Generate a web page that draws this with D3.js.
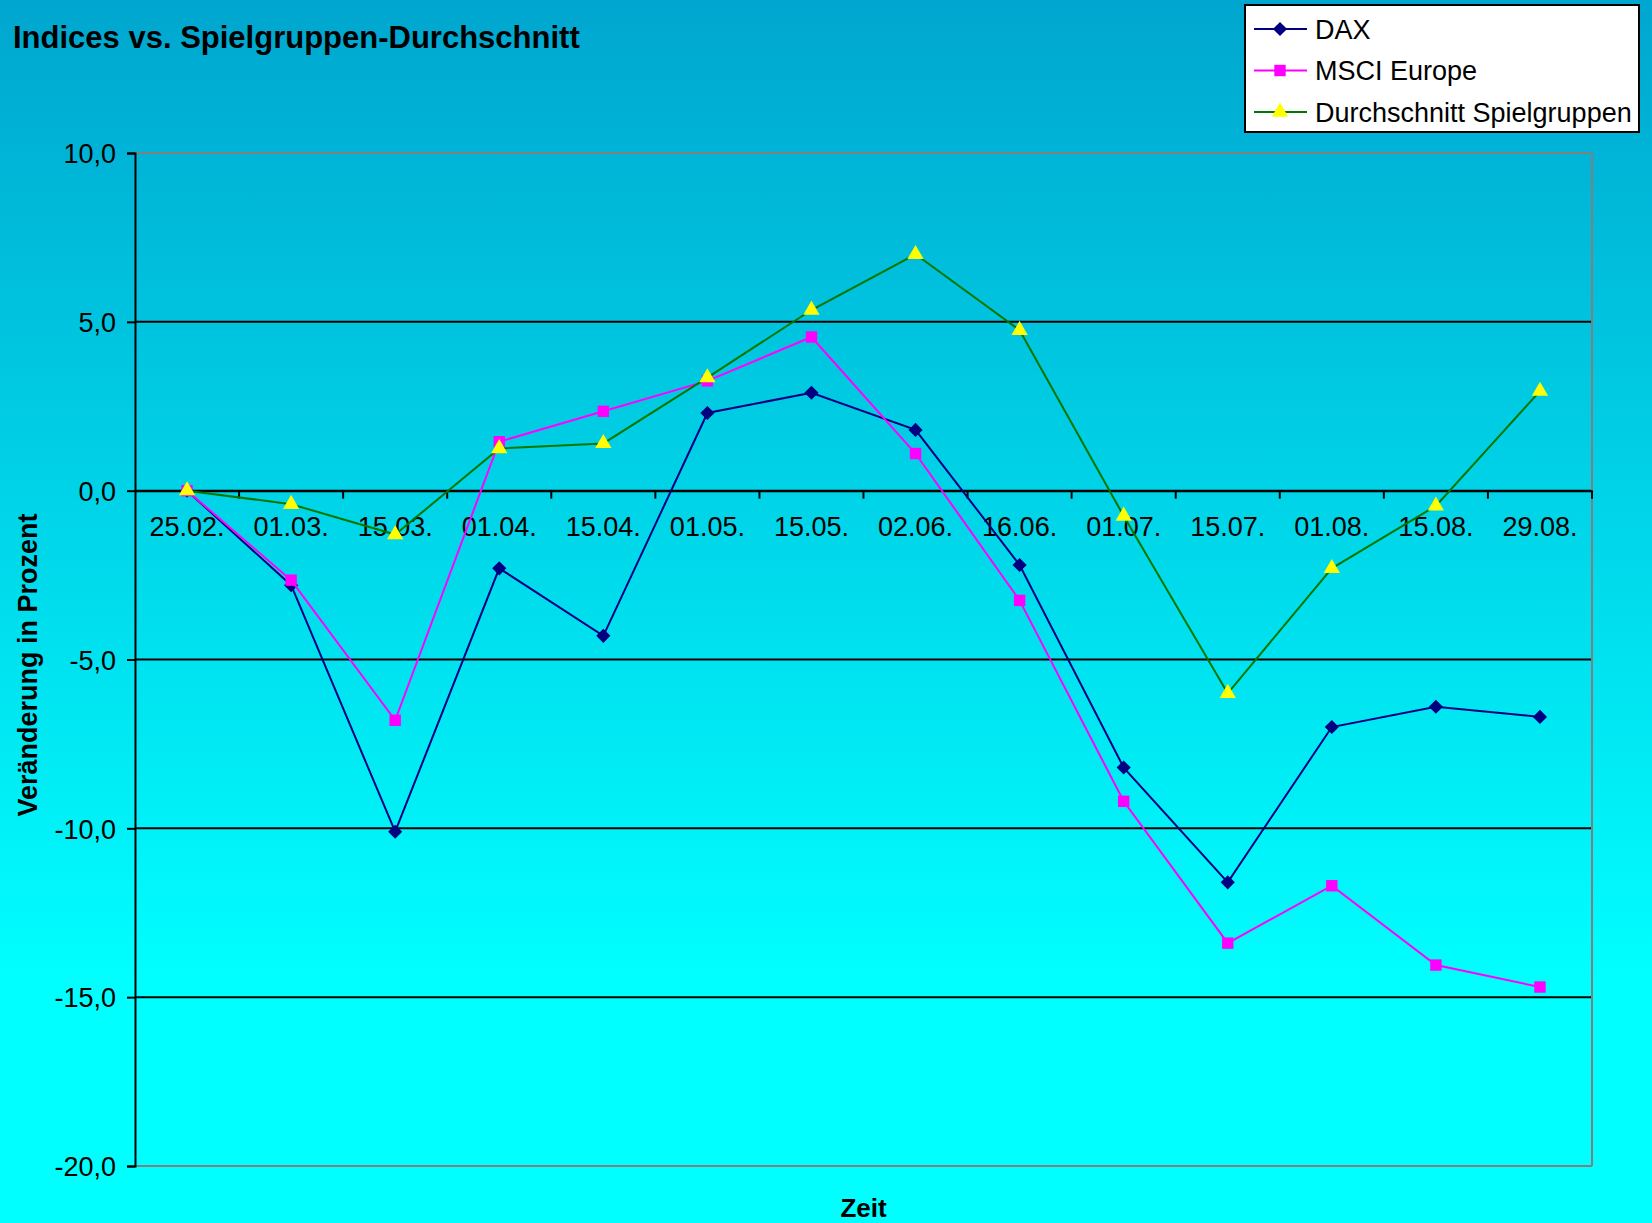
<!DOCTYPE html>
<html>
<head>
<meta charset="utf-8">
<script src="https://cdn.jsdelivr.net/npm/d3@7"></script>
<style>
  html, body { margin: 0; padding: 0; }
  body { width: 1652px; height: 1223px; overflow: hidden; }
  svg text { font-family: "Liberation Sans", Arial, sans-serif; fill: #000; }
</style>
</head>
<body>
<div id="chart"></div>
<script>
// data
var dates = ["25.02.", "01.03.", "15.03.", "01.04.", "15.04.", "01.05.", "15.05.",
             "02.06.", "16.06.", "01.07.", "15.07.", "01.08.", "15.08.", "29.08."];
var dax   = [0, -2.8, -10.1, -2.3, -4.3, 2.3, 2.9, 1.8, -2.2, -8.2, -11.6, -7.0, -6.4, -6.7];
var msci  = [0, -2.65, -6.8, 1.45, 2.35, 3.25, 4.55, 1.1, -3.25, -9.2, -13.4, -11.7, -14.05, -14.7];
var durch = [0, -0.4, -1.3, 1.25, 1.4, 3.35, 5.35, 7.0, 4.75, -0.75, -6.0, -2.3, -0.45, 2.95];
var yTicks = [10, 5, 0, -5, -10, -15, -20];

var seriesNames = ["DAX", "MSCI Europe", "Durchschnitt Spielgruppen"];

var width = 1652, height = 1223;
// plot box (window.top is read-only, so no plain "top" here)
var plotL = 135, plotR = 1592, plotT = 153, plotB = 1166;

var svg = d3.select("#chart").append("svg")
    .attr("width", width)
    .attr("height", height);

// background gradient
var grad = svg.append("defs").append("linearGradient")
    .attr("id", "bg")
    .attr("x1", 0).attr("y1", 0).attr("x2", 0).attr("y2", 1);
grad.append("stop").attr("offset", "0%").attr("stop-color", "#00a6cf");
grad.append("stop").attr("offset", "80%").attr("stop-color", "#00ffff");
grad.append("stop").attr("offset", "100%").attr("stop-color", "#00ffff");

svg.append("rect")
    .attr("width", width).attr("height", height)
    .attr("fill", "url(#bg)");

var x = d3.scaleBand().domain(dates).range([plotL, plotR]).padding(0);
var y = d3.scaleLinear().domain([-20, 10]).range([plotB, plotT]);
var cx = function(d) { return x(d) + x.bandwidth() / 2; };

// gridlines
svg.append("g").selectAll("line")
    .data(yTicks)
  .enter().append("line")
    .attr("x1", plotL).attr("x2", plotR)
    .attr("y1", function(d) { return y(d); })
    .attr("y2", function(d) { return y(d); })
    .attr("stroke", function(d) { return (d == 10 || d == -20) ? "#808080" : "#000"; })
    .attr("stroke-width", 2);

// right border
svg.append("line")
    .attr("x1", plotR).attr("x2", plotR)
    .attr("y1", plotT).attr("y2", plotB)
    .attr("stroke", "#808080").attr("stroke-width", 2);

// y axis
var yAxis = svg.append("g")
    .attr("transform", "translate(" + plotL + ",0)")
    .call(d3.axisLeft(y).tickValues(yTicks).tickSize(8).tickPadding(11)
      .tickFormat(function(d) { return d.toFixed(1).replace(".", ","); }));
yAxis.select(".domain").attr("stroke", "#000").attr("stroke-width", 2);
yAxis.selectAll(".tick line").attr("stroke", "#000").attr("stroke-width", 2);
yAxis.selectAll(".tick text")
    .attr("font-size", 27)
    .attr("font-family", "Liberation Sans, Arial, sans-serif")
    .attr("dy", "0.36em")
    .attr("fill", "#000");

// x axis on the zero line, labels centred, ticks on band edges
var xAxis = svg.append("g")
    .attr("transform", "translate(0," + y(0) + ")")
    .call(d3.axisBottom(x).tickSize(0).tickPadding(26).tickSizeOuter(0));
xAxis.select(".domain").attr("stroke", "#000").attr("stroke-width", 2);
xAxis.selectAll(".tick text")
    .attr("font-size", 27)
    .attr("font-family", "Liberation Sans, Arial, sans-serif")
    .attr("fill", "#000");

xAxis.selectAll(".edge")
    .data(dates)
  .enter().append("line")
    .attr("class", "edge")
    .attr("x1", function(d) { return x(d) + x.bandwidth(); })
    .attr("x2", function(d) { return x(d) + x.bandwidth(); })
    .attr("y1", 0).attr("y2", 8)
    .attr("stroke", "#000").attr("stroke-width", 2);

// series (diamond = square turned by 45 degrees, like the Excel marker)
var series = [
  { name: seriesNames[0], values: dax,   color: "#000080", marker: d3.symbolSquare,   fill: "#000080", size: 100, rot: 45 },
  { name: seriesNames[1], values: msci,  color: "#ff00ff", marker: d3.symbolSquare,   fill: "#ff00ff", size: 130, rot: 0 },
  { name: seriesNames[2], values: durch, color: "#007800", marker: d3.symbolTriangle, fill: "#ffff00", size: 115, rot: 0 }
];

var line = d3.line()
    .x(function(d, i) { return cx(dates[i]); })
    .y(function(d) { return y(d); });

series.forEach(function(s) {
  var g = svg.append("g");
  g.append("path")
      .datum(s.values)
      .attr("d", line)
      .attr("fill", "none")
      .attr("stroke", s.color)
      .attr("stroke-width", 2);
  g.selectAll("path.mk")
      .data(s.values)
    .enter().append("path")
      .attr("class", "mk")
      .attr("d", d3.symbol().type(s.marker).size(s.size))
      .attr("transform", function(d, i) {
        return "translate(" + cx(dates[i]) + "," + y(d) + ") rotate(" + s.rot + ")";
      })
      .attr("fill", s.fill);
});

// title
svg.append("text")
    .attr("x", 13).attr("y", 48)
    .attr("font-size", 31).attr("font-weight", "bold")
    .text("Indices vs. Spielgruppen-Durchschnitt");

// axis titles
svg.append("text")
    .attr("transform", "translate(37,665) rotate(-90)")
    .attr("text-anchor", "middle")
    .attr("font-size", 27).attr("font-weight", "bold")
    .text("Veränderung in Prozent");

svg.append("text")
    .attr("x", (plotL + plotR) / 2).attr("y", 1217)
    .attr("text-anchor", "middle")
    .attr("font-size", 26).attr("font-weight", "bold")
    .text("Zeit");

// legend
var legend = svg.append("g");
legend.append("rect")
    .attr("x", 1245).attr("y", 5)
    .attr("width", 394).attr("height", 127)
    .attr("fill", "#fff").attr("stroke", "#000").attr("stroke-width", 2);

var item = legend.selectAll("g.item")
    .data(series)
  .enter().append("g")
    .attr("class", "item")
    .attr("transform", function(d, i) { return "translate(0," + (29 + i * 41.5) + ")"; });
item.append("line")
    .attr("x1", 1254).attr("x2", 1307)
    .attr("stroke", function(d) { return d.color; })
    .attr("stroke-width", 2);
item.append("path")
    .attr("d", function(d) { return d3.symbol().type(d.marker).size(d.size)(); })
    .attr("transform", function(d) { return "translate(1280,0) rotate(" + d.rot + ")"; })
    .attr("fill", function(d) { return d.fill; });
item.append("text")
    .attr("x", 1315).attr("dy", "0.36em")
    .attr("font-size", 27)
    .text(function(d) { return d.name; });
</script>
</body>
</html>
